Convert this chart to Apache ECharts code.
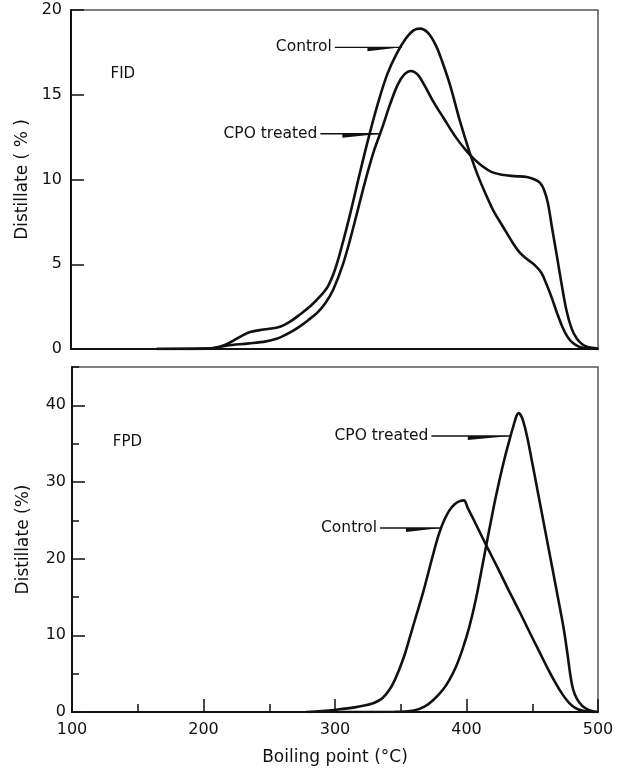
<!DOCTYPE html>
<html>
<head>
<meta charset="utf-8">
<script src="https://cdn.jsdelivr.net/npm/echarts@6/dist/echarts.min.js"></script>
<style>
  html, body { margin: 0; padding: 0; background: #fff; }
  #chart { width: 621px; height: 769px; }
</style>
</head>
<body>
<div id="chart"></div>
<script>
// Boiling-point distributions (°C vs % distillate) for two detectors.
const xTickValues = [100, 200, 300, 400, 500];
const fidTickValues = [0, 5, 10, 15, 20];
const fpdTickValues = [0, 10, 20, 30, 40];

// FID panel
const fidControl = [
  [165, 0], [200, 0.02], [211, 0.1], [221, 0.4], [229, 0.75], [236, 1.0], [246, 1.15],
  [258, 1.3], [266, 1.6], [274, 2.05], [282, 2.55], [289, 3.1], [295, 3.7], [300, 4.6],
  [305, 5.9], [312, 8.0], [319, 10.3], [326, 12.5], [333, 14.5], [340, 16.2], [347, 17.4],
  [354, 18.3], [360, 18.8], [365, 18.9], [371, 18.65], [377, 17.9], [382, 16.9], [388, 15.5],
  [395, 13.5], [403, 11.5], [409, 10.2], [415, 9.1], [421, 8.1], [428, 7.2], [435, 6.3],
  [441, 5.65], [447, 5.25], [452, 4.95], [457, 4.5], [461, 3.8], [465, 3.0], [469, 2.1],
  [473, 1.3], [477, 0.7], [481, 0.35], [486, 0.12], [492, 0.03], [500, 0]
];
const fidCpoTreated = [
  [165, 0], [205, 0.02], [218, 0.2], [235, 0.33], [248, 0.45], [256, 0.6], [262, 0.8],
  [268, 1.05], [274, 1.35], [280, 1.7], [287, 2.15], [293, 2.7], [299, 3.5], [306, 4.9],
  [312, 6.5], [318, 8.3], [324, 10.1], [330, 11.7], [336, 13.0], [342, 14.4], [348, 15.6],
  [353, 16.2], [358, 16.4], [363, 16.2], [368, 15.6], [375, 14.6], [383, 13.6], [392, 12.5],
  [400, 11.7], [406, 11.2], [412, 10.8], [419, 10.45], [427, 10.28], [437, 10.2], [446, 10.15],
  [452, 10.0], [456, 9.8], [459, 9.4], [462, 8.6], [465, 7.2], [469, 5.4], [472, 4.0],
  [476, 2.3], [480, 1.2], [484, 0.6], [488, 0.28], [492, 0.12], [500, 0.03]
];

// FPD panel
const fpdControl = [
  [278, 0], [290, 0.12], [301, 0.3], [315, 0.6], [324, 0.9], [330, 1.2], [336, 1.8],
  [341, 2.8], [345, 4.0], [349, 5.6], [353, 7.5], [357, 9.8], [362, 12.7], [367, 15.6],
  [371, 18.2], [375, 20.8], [379, 23.2], [383, 25.0], [387, 26.3], [391, 27.1], [395, 27.5],
  [398, 27.6], [401, 26.6], [408, 24.2], [416, 21.4], [424, 18.7], [432, 15.9], [440, 13.2],
  [448, 10.4], [455, 8.0], [462, 5.6], [468, 3.7], [473, 2.3], [478, 1.2], [483, 0.5],
  [488, 0.18], [494, 0.03], [500, 0]
];
const fpdCpoTreated = [
  [300, 0], [345, 0.03], [360, 0.2], [368, 0.7], [375, 1.6], [382, 2.9], [387, 4.2],
  [392, 5.9], [397, 8.2], [402, 11.0], [407, 14.6], [412, 19.0], [417, 23.5], [421, 27.0],
  [425, 30.2], [429, 33.1], [433, 35.7], [436, 37.5], [438, 38.6], [439.5, 39.0], [441, 38.8],
  [443, 38.0], [446, 36.0], [450, 32.5], [455, 28.0], [460, 23.5], [465, 19.0], [470, 14.5],
  [474, 10.8], [477, 7.3], [479, 4.8], [481, 3.0], [484, 1.7], [488, 0.8], [492, 0.35],
  [496, 0.1], [500, 0]
];

// Curve callouts, in data units: label end, start of the wedge, and tip on the curve.
const fidCallouts = [
  { text: 'Control', labelEnd: [298, 17.8], wedgeStart: [325, 17.8], tip: [351, 17.8] },
  { text: 'CPO treated', labelEnd: [287, 12.7], wedgeStart: [306, 12.7], tip: [335, 12.7] }
];
const fpdCallouts = [
  { text: 'CPO treated', labelEnd: [371, 36.0], wedgeStart: [401, 36.0], tip: [433, 36.0] },
  { text: 'Control', labelEnd: [332, 24.0], wedgeStart: [354, 24.0], tip: [380.5, 24.0] }
];
const panelTags = [
  { text: 'FID', at: [130, 16.2], grid: 0 },
  { text: 'FPD', at: [131, 35.2], grid: 1 }
];

const FONT = 'DejaVu Sans';
const INK = '#111';

const chart = echarts.init(document.getElementById('chart'), null, { renderer: 'canvas' });

function xAxisFor(gridIndex, withLabels) {
  return {
    type: 'value', gridIndex, min: 100, max: 500, interval: 100,
    axisLine: { show: true, lineStyle: { color: INK, width: 2 } },
    axisTick: withLabels
      ? { show: true, inside: true, length: 13, lineStyle: { color: INK, width: 1.5 }, customValues: xTickValues }
      : { show: false },
    minorTick: withLabels
      ? { show: true, splitNumber: 2, length: 8, lineStyle: { color: INK, width: 1.5 } }
      : { show: false },
    axisLabel: withLabels
      ? { show: true, margin: 10, fontSize: 16, color: INK, fontFamily: FONT, customValues: xTickValues }
      : { show: false },
    splitLine: { show: false },
    name: withLabels ? 'Boiling point (°C)' : '',
    nameLocation: 'middle', nameGap: 37,
    nameTextStyle: { fontSize: 17, color: INK, fontFamily: FONT }
  };
}

function yAxisFor(gridIndex, max, interval, ticks, name, labelMargin) {
  return {
    type: 'value', gridIndex, min: 0, max, interval,
    axisLine: { show: true, lineStyle: { color: INK, width: 2 } },
    axisTick: { show: true, inside: true, length: 13, lineStyle: { color: INK, width: 1.5 }, customValues: ticks },
    axisLabel: { show: true, margin: labelMargin, fontSize: 16, color: INK, fontFamily: FONT, customValues: ticks },
    splitLine: { show: false },
    name, nameLocation: 'middle', nameGap: 40,
    nameTextStyle: { fontSize: 17, color: INK, fontFamily: FONT }
  };
}

function curve(data, gridIndex) {
  return {
    type: 'line', data, xAxisIndex: gridIndex, yAxisIndex: gridIndex,
    showSymbol: false, smooth: 0.35, silent: true,
    lineStyle: { color: INK, width: 2.6 }, z: 5
  };
}

chart.setOption({
  animation: false,
  backgroundColor: '#fff',
  grid: [
    { left: 71, top: 10, width: 527, height: 339, show: true, borderColor: '#555', borderWidth: 1.5, backgroundColor: 'transparent' },
    { left: 72, top: 367, width: 526, height: 345, show: true, borderColor: '#555', borderWidth: 1.5, backgroundColor: 'transparent' }
  ],
  xAxis: [xAxisFor(0, false), xAxisFor(1, true)],
  yAxis: [
    yAxisFor(0, 20, 5, fidTickValues, 'Distillate ( % )', 9),
    yAxisFor(1, 45, 10, fpdTickValues, 'Distillate (%)', 6),
    {
      // half-step ticks on the FPD axis
      type: 'value', gridIndex: 1, min: 0, max: 45, interval: 5, position: 'left',
      axisLine: { show: false },
      axisTick: { show: true, inside: true, length: 7, lineStyle: { color: INK, width: 1.5 } },
      axisLabel: { show: false }, splitLine: { show: false }
    }
  ],
  series: [
    curve(fidControl, 0), curve(fidCpoTreated, 0),
    curve(fpdControl, 1), curve(fpdCpoTreated, 1)
  ]
});

// Callout labels with wedge-tipped leader lines, positioned from data coordinates.
function px(gridIndex, pt) {
  return chart.convertToPixel({ xAxisIndex: gridIndex, yAxisIndex: gridIndex }, pt);
}

const graphics = [];
[[fidCallouts, 0], [fpdCallouts, 1]].forEach(([list, g]) => {
  list.forEach(c => {
    const a = px(g, c.labelEnd), w = px(g, c.wedgeStart), t = px(g, c.tip);
    graphics.push({
      type: 'text', x: a[0], y: a[1], z: 10,
      style: { text: c.text, fill: INK, font: '15.5px "' + FONT + '"', align: 'right', verticalAlign: 'middle' }
    });
    graphics.push({
      type: 'line', z: 10,
      shape: { x1: a[0] + 3, y1: a[1], x2: t[0], y2: t[1] },
      style: { stroke: INK, lineWidth: 1.3 }
    });
    graphics.push({
      type: 'polygon', z: 10,
      shape: { points: [[w[0], w[1]], [w[0], w[1] + 4], [t[0], t[1]]] },
      style: { fill: INK }
    });
  });
});
panelTags.forEach(p => {
  const a = px(p.grid, p.at);
  graphics.push({
    type: 'text', x: a[0], y: a[1], z: 10,
    style: { text: p.text, fill: INK, font: '15px "' + FONT + '"', align: 'left', verticalAlign: 'middle' }
  });
});
chart.setOption({ graphic: graphics });
</script>
</body>
</html>
